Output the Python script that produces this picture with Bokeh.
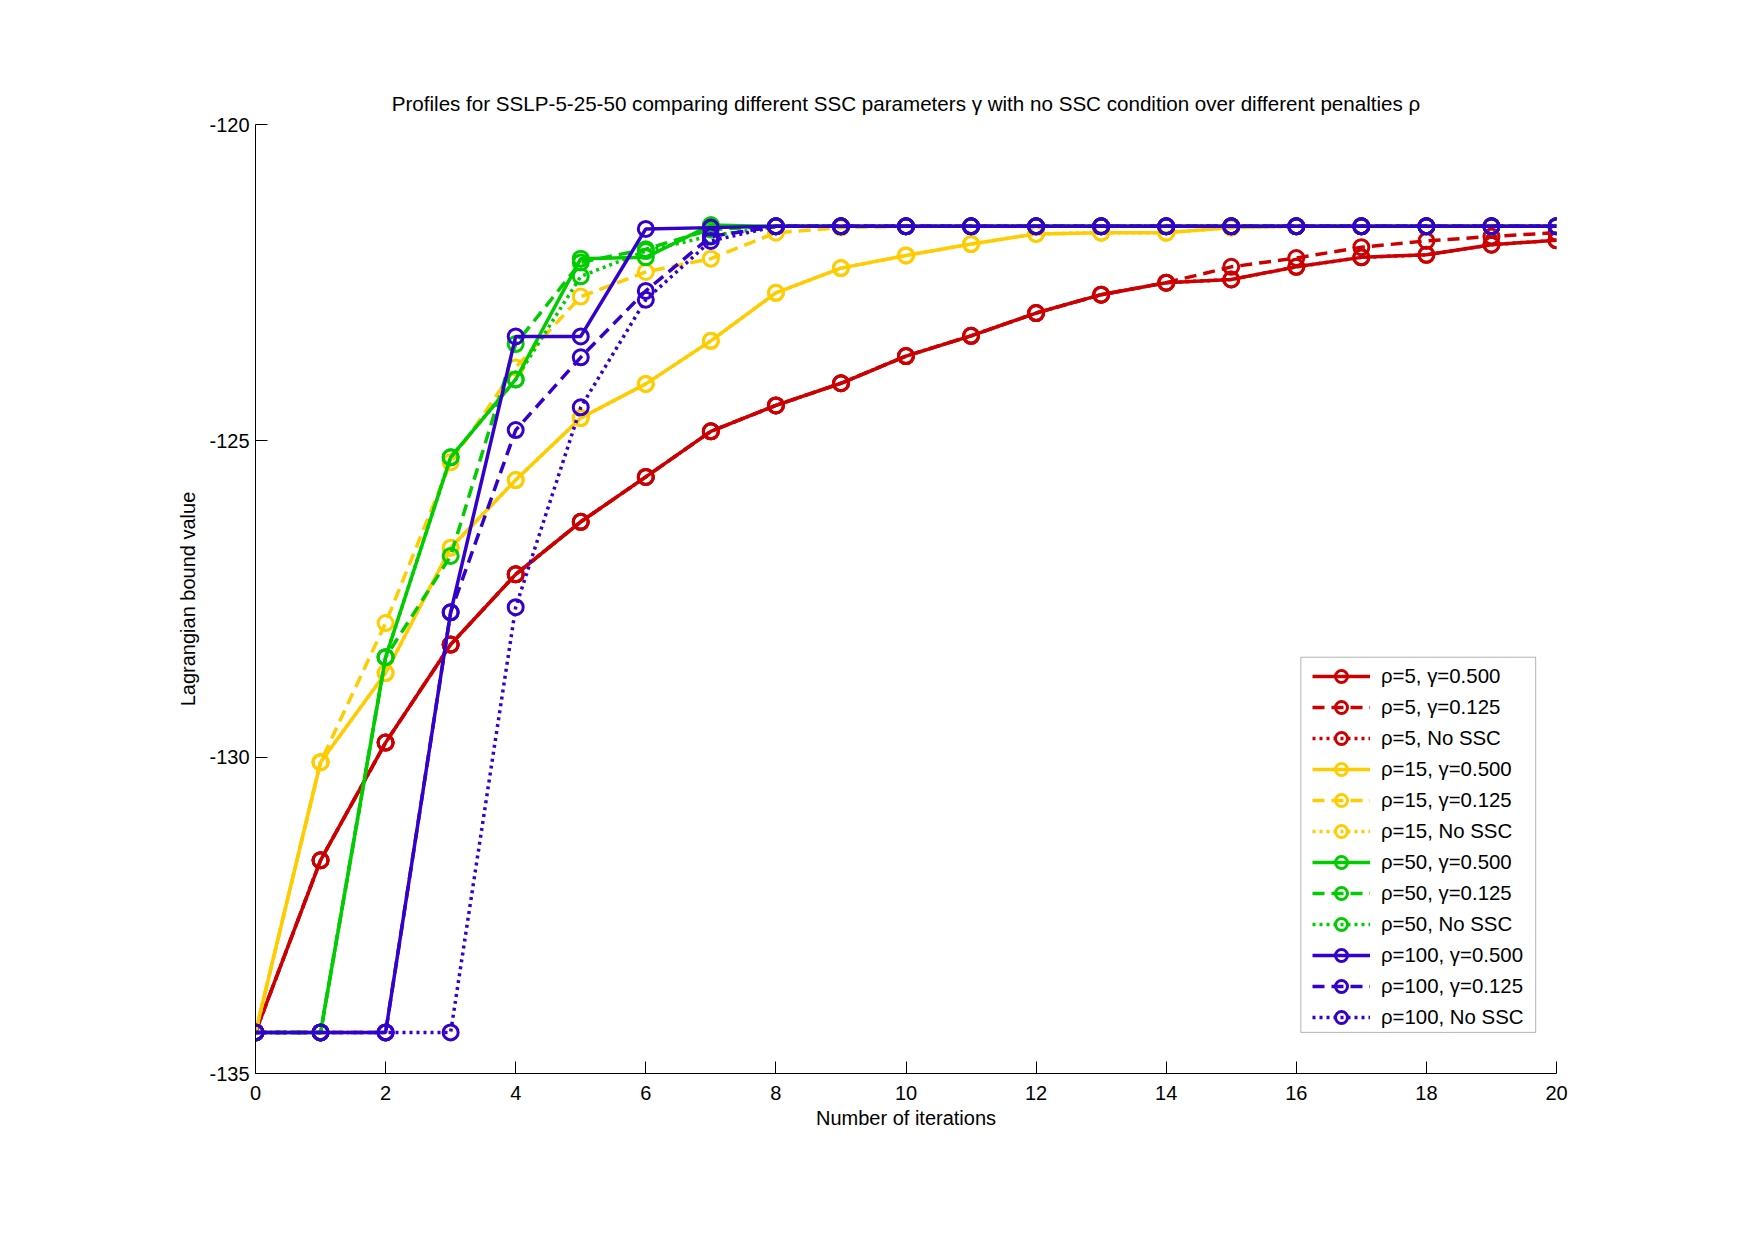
from bokeh.plotting import figure
from bokeh.models import Range1d, FixedTicker, Legend, LegendItem, PrintfTickFormatter, BoxAnnotation
from bokeh.embed import file_html
from bokeh.resources import INLINE

# Iteration counter
iterations = list(range(0, 21))

# Lagrangian bound per iteration, one list per (penalty, SSC setting)
rho5_g0500 = [-134.35, -131.63, -129.77, -128.22, -127.11, -126.28, -125.57, -124.85, -124.44, -124.09,
              -123.66, -123.34, -122.98, -122.69, -122.50, -122.45, -122.25, -122.10, -122.06, -121.90, -121.83]
rho5_g0125 = [-134.35, -131.63, -129.77, -128.22, -127.11, -126.28, -125.57, -124.85, -124.44, -124.09,
              -123.66, -123.34, -122.98, -122.69, -122.50, -122.25, -122.11, -121.94, -121.84, -121.77, -121.71]
rho5_nossc = [-134.35, -131.63, -129.77, -128.22, -127.11, -126.28, -125.57, -124.85, -124.44, -124.09,
              -123.66, -123.34, -122.98, -122.69, -122.50, -122.45, -122.25, -122.10, -122.06, -121.90, -121.83]

rho15_g0500 = [-134.35, -130.08, -128.67, -126.69, -125.62, -124.64, -124.10, -123.42, -122.66, -122.27,
               -122.07, -121.89, -121.73, -121.71, -121.71, -121.63, -121.61, -121.61, -121.61, -121.61, -121.61]
rho15_g0125 = [-134.35, -130.08, -127.88, -125.34, -123.84, -122.72, -122.33, -122.12, -121.71, -121.63,
               -121.61, -121.61, -121.61, -121.61, -121.61, -121.61, -121.61, -121.61, -121.61, -121.61, -121.61]
rho15_nossc = [-134.35, -130.08, -128.67, -126.69, -125.62, -124.64, -124.10, -123.42, -122.66, -122.27,
               -122.07, -121.89, -121.73, -121.71, -121.71, -121.63, -121.61, -121.61, -121.61, -121.61, -121.61]

rho50_g0500 = [-134.35, -134.35, -128.42, -125.26, -124.03, -122.12, -122.10, -121.59, -121.61, -121.61,
               -121.61, -121.61, -121.61, -121.61, -121.61, -121.61, -121.61, -121.61, -121.61, -121.61, -121.61]
rho50_g0125 = [-134.35, -134.35, -128.42, -126.82, -123.47, -122.18, -121.97, -121.66, -121.61, -121.61,
               -121.61, -121.61, -121.61, -121.61, -121.61, -121.61, -121.61, -121.61, -121.61, -121.61, -121.61]
rho50_nossc = [-134.35, -134.35, -128.42, -125.26, -124.03, -122.40, -122.00, -121.76, -121.61, -121.61,
               -121.61, -121.61, -121.61, -121.61, -121.61, -121.61, -121.61, -121.61, -121.61, -121.61, -121.61]

rho100_g0500 = [-134.35, -134.35, -134.35, -127.71, -123.35, -123.35, -121.65, -121.63, -121.61, -121.61,
                -121.61, -121.61, -121.61, -121.61, -121.61, -121.61, -121.61, -121.61, -121.61, -121.61, -121.61]
rho100_g0125 = [-134.35, -134.35, -134.35, -127.71, -124.83, -123.68, -122.63, -121.77, -121.61, -121.61,
                -121.61, -121.61, -121.61, -121.61, -121.61, -121.61, -121.61, -121.61, -121.61, -121.61, -121.61]
rho100_nossc = [-134.35, -134.35, -134.35, -134.35, -127.63, -124.47, -122.77, -121.84, -121.61, -121.61,
                -121.61, -121.61, -121.61, -121.61, -121.61, -121.61, -121.61, -121.61, -121.61, -121.61, -121.61]

series_labels = ["ρ=5, γ=0.500", "ρ=5, γ=0.125", "ρ=5, No SSC",
                 "ρ=15, γ=0.500", "ρ=15, γ=0.125", "ρ=15, No SSC",
                 "ρ=50, γ=0.500", "ρ=50, γ=0.125", "ρ=50, No SSC",
                 "ρ=100, γ=0.500", "ρ=100, γ=0.125", "ρ=100, No SSC"]
series_values = [rho5_g0500, rho5_g0125, rho5_nossc,
                 rho15_g0500, rho15_g0125, rho15_nossc,
                 rho50_g0500, rho50_g0125, rho50_nossc,
                 rho100_g0500, rho100_g0125, rho100_nossc]

x_ticks = [0, 2, 4, 6, 8, 10, 12, 14, 16, 18, 20]
y_ticks = [-135, -130, -125, -120]

penalty_colors = ["#cc0000", "#ffcc00", "#00cc00", "#3300cc"]
dash_styles = ["solid", "12 7", "3 4"]

FONT = "Liberation Sans"

p = figure(width=1755, height=1240, output_backend="svg", toolbar_location=None,
           x_range=Range1d(0, 20), y_range=Range1d(-135, -120),
           min_border_left=255, min_border_right=199, min_border_top=124, min_border_bottom=167,
           background_fill_color="white", border_fill_color="white", outline_line_color=None,
           title="Profiles for SSLP-5-25-50 comparing different SSC parameters γ with no SSC condition over different penalties ρ")

p.title.text_font = FONT
p.title.text_font_size = "20.6px"
p.title.text_font_style = "normal"
p.title.text_color = "black"
p.title.align = "center"
p.title.standoff = 19

p.xgrid.visible = False
p.ygrid.visible = False

for ax in (p.xaxis[0], p.yaxis[0]):
    ax.axis_line_color = "black"
    ax.axis_line_width = 1
    ax.major_tick_line_color = "black"
    ax.major_tick_in = 12
    ax.major_tick_out = 0
    ax.minor_tick_line_color = None
    ax.major_label_text_font = FONT
    ax.major_label_text_font_size = "20px"
    ax.major_label_text_color = "black"
    ax.axis_label_text_font = FONT
    ax.axis_label_text_font_size = "20px"
    ax.axis_label_text_font_style = "normal"
    ax.axis_label_text_color = "black"

p.xaxis.ticker = FixedTicker(ticks=x_ticks)
p.yaxis.ticker = FixedTicker(ticks=y_ticks)
p.xaxis.formatter = PrintfTickFormatter(format="%d")
p.yaxis.formatter = PrintfTickFormatter(format="%d")
p.xaxis.axis_label = "Number of iterations"
p.yaxis.axis_label = "Lagrangian bound value"
p.xaxis.major_label_standoff = 12
p.yaxis.major_label_standoff = 6
p.xaxis.axis_label_standoff = 4
p.yaxis.axis_label_standoff = 7

items = []
for i, (label, vals) in enumerate(zip(series_labels, series_values)):
    color = penalty_colors[i // 3]
    dash = dash_styles[i % 3]
    ln = p.line(iterations, vals, line_color=color, line_width=3.5, line_dash=dash)
    mk = p.scatter(iterations, vals, marker="circle", size=15, line_color=color,
                   line_width=3, fill_alpha=0)
    items.append(LegendItem(label=label, renderers=[ln, mk]))

# legend frame, drawn in data space behind the legend entries
legend_frame = BoxAnnotation(left=16.07, right=19.68, top=-128.42, bottom=-134.35,
                             fill_color="white", fill_alpha=1,
                             line_color="black", line_width=1)
p.add_layout(legend_frame)

legend = Legend(items=items, location=(1057, 41))
legend.label_text_font = FONT
legend.label_text_font_size = "20.4px"
legend.label_text_color = "black"
legend.border_line_color = None
legend.background_fill_alpha = 0
legend.glyph_width = 58
legend.glyph_height = 30
legend.label_height = 30
legend.label_standoff = 11
legend.spacing = 1
legend.padding = 3
legend.margin = 0
p.add_layout(legend, "center")

open("out.html", "w").write(file_html(p, INLINE))
